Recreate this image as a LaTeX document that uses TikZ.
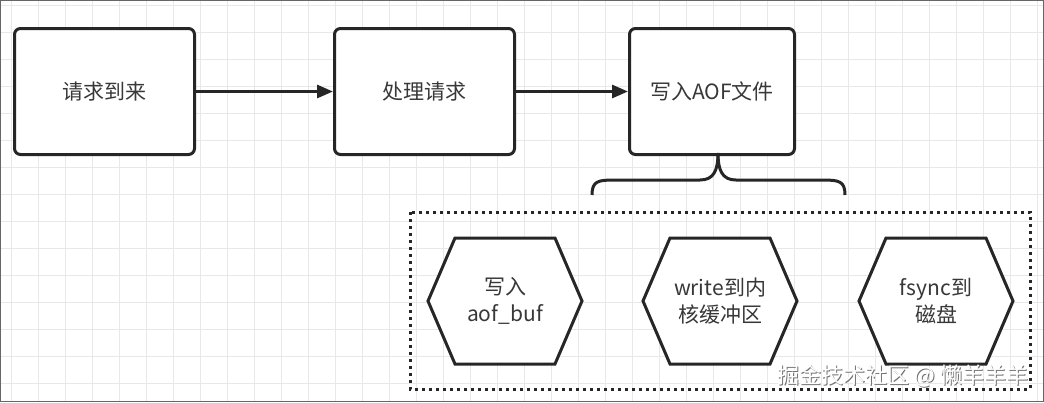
\documentclass[tikz,border=0pt]{standalone}
\usepackage{fontspec}
\setmainfont{Noto Sans CJK SC}
\usetikzlibrary{arrows.meta}
\begin{document}
\begin{tikzpicture}[x=1pt,y=-1pt,
  box/.style={draw=black!85,line width=3pt,rounded corners=6pt,fill=white},
  hex/.style={draw=black!85,line width=3pt,fill=white,line join=miter},
  lbl/.style={text=black!78,font=\fontsize{21}{27}\selectfont,align=center},
  arr/.style={draw=black!85,line width=3pt,-{Triangle[length=16pt,width=13pt]}}]
\useasboundingbox (0,0) rectangle (1044,402);
\fill[white] (0,0) rectangle (1044,402);
\foreach \i in {0,...,39} {\draw[black!9,line width=1pt] (\i*27+11,0) -- (\i*27+11,402);}
\foreach \i in {0,...,15} {\draw[black!9,line width=1pt] (0,\i*27+5) -- (1044,\i*27+5);}
\draw[black!60,line width=1.2pt] (0.6,0.6) rectangle (1043.4,401.4);
\node (b1) [box,minimum width=180,minimum height=126,anchor=north west] at (13,27) {};
\node[lbl] at (b1.center) {请求到来};
\node (b2) [box,minimum width=180,minimum height=126,anchor=north west] at (333,27) {};
\node[lbl] at (b2.center) {处理请求};
\node (b3) [box,minimum width=165,minimum height=126,anchor=north west] at (628,27) {};
\node[lbl] at (b3.center) {写入AOF文件};
\draw[arr] (b1.east) -- (b2.west);
\draw[arr] (b2.east) -- (b3.west);
\coordinate (tip) at (718,153);
\draw[black!85,line width=3pt] (592,195) .. controls (592,181) and (598,180) .. (615,180) -- (700,180) .. controls (714,180) and (718,170) .. (tip);
\draw[black!85,line width=3pt] (845,195) .. controls (845,181) and (839,180) .. (822,180) -- (736,180) .. controls (722,180) and (718,170) .. (tip);
\draw[black!85,line width=3pt,dash pattern=on 3pt off 4pt] (410,212) rectangle (1030,389);
\foreach \n/\cx/\t in {h1/505/{写入\\aof\_buf},h2/720/{write到内\\核缓冲区},h3/936/{fsync到\\磁盘}}{
  \draw[hex] (\cx-77,301) -- (\cx-50,238) -- (\cx+50,238) -- (\cx+77,301) -- (\cx+50,364) -- (\cx-50,364) -- cycle;
  \node[lbl] (\n) at (\cx,301) {\t};
}
\node[text=black!55,font=\fontsize{22}{24}\selectfont,anchor=east] at (1033,377) {掘金技术社区 @ 懒羊羊羊};
\node[text=white,font=\fontsize{22}{24}\selectfont,anchor=east] (wm) at (1032,376) {掘金技术社区 @ 懒羊羊羊};
\end{tikzpicture}
\end{document}
